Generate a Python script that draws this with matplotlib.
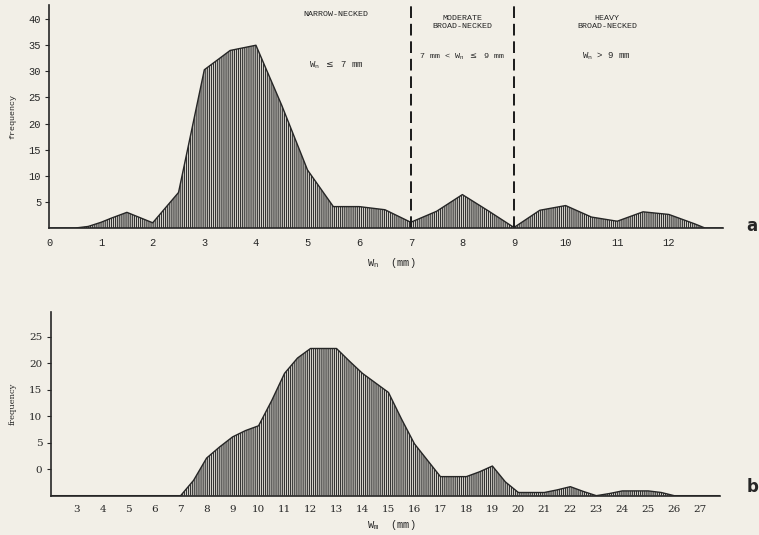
import matplotlib
matplotlib.use('Agg')
import matplotlib.pyplot as plt

# panel a: neck width W_n (mm), frequency
wn_x = [0, 0.5, 0.75, 1, 1.2, 1.5, 2, 2.5, 3, 3.5, 4, 4.5, 5, 5.5, 6, 6.5,
        7, 7.5, 8, 8.5, 9, 9.5, 10, 10.5, 11, 11.5, 12, 12.5, 12.7, 13.05]
wn_y = [0, 0, 0.3, 1.1, 1.9, 3.0, 1.0, 6.8, 30.3, 34.0, 35.0, 23.5, 11.1, 4.1, 4.1, 3.5,
        1.1, 3.2, 6.4, 3.3, 0.1, 3.4, 4.3, 2.1, 1.3, 3.1, 2.6, 0.8, 0, 0]
wn_ticks = list(range(0, 13))
wn_yticks = [5, 10, 15, 20, 25, 30, 35, 40]

# panel b: W_m (mm), frequency
wm_x = [2, 7, 7.5, 8, 8.5, 9, 9.5, 10, 10.5, 11, 11.5, 12, 12.5, 13, 13.5, 14, 14.5,
        15, 15.5, 16, 16.5, 17, 18, 18.5, 19, 19.5, 20, 21, 21.5, 22, 22.5, 23,
        23.5, 24, 25, 25.5, 26, 27.75]
wm_y = [0, 0, 2.9, 7.1, 9.2, 11.1, 12.3, 13.2, 17.9, 23.1, 26.0, 27.8, 27.8, 27.8, 25.4, 23.1, 21.3,
        19.5, 14.5, 9.8, 6.7, 3.6, 3.6, 4.5, 5.6, 2.6, 0.6, 0.6, 1.1, 1.7, 0.8, 0,
        0.4, 0.9, 0.9, 0.6, 0, 0]
wm_ticks = list(range(3, 28))
# the printed y labels sit 5 units above the baseline
wm_ytick_pos = [5, 10, 15, 20, 25, 30]
wm_ytick_lab = ['0', '5', '10', '15', '20', '25']

paper = '#f2efe7'
ink = '#262626'
mono = 'Liberation Mono'
serif = 'DejaVu Serif'

plt.rcParams['hatch.linewidth'] = 0.9
plt.rcParams['hatch.color'] = '#333333'

fig = plt.figure(figsize=(7.59, 5.35), dpi=100, facecolor=paper)

# ---- top panel ----
ax1 = fig.add_axes([0.0652, 0.5738, 0.8874, 0.4168])
ax1.set_facecolor(paper)
ax1.fill_between(wn_x, wn_y, 0, facecolor=paper, edgecolor='#333333',
                 hatch='||||||||', linewidth=0)
ax1.plot(wn_x, wn_y, color=ink, lw=1.0)
ax1.set_xlim(0, 13.05)
ax1.set_ylim(0, 42.7)
for s in ['top', 'right']:
    ax1.spines[s].set_visible(False)
for s in ['left', 'bottom']:
    ax1.spines[s].set_color(ink)
    ax1.spines[s].set_linewidth(1.2)
ax1.set_xticks(wn_ticks)
ax1.set_xticklabels([str(t) for t in wn_ticks], family=mono, fontsize=7.5, color=ink)
ax1.set_yticks(wn_yticks)
ax1.set_yticklabels([str(t) for t in wn_yticks], family=mono, fontsize=7.5, color=ink)
ax1.tick_params(axis='x', length=0, pad=7)
ax1.tick_params(axis='y', length=3, width=0.8, color=ink, pad=3)
ax1.set_ylabel('frequency', family=mono, fontsize=6, color=ink, labelpad=9)
fig.text(0.515, 1 - 263 / 535, r'W$_\mathregular{n}$  (mm)', family=mono, fontsize=7.5,
         color=ink, ha='center', va='center')

for xv in [7, 9]:
    ax1.plot([xv, xv], [0, 43.3], color='#1a1a1a', lw=1.4, ls=(0, (6, 3)), clip_on=False)

ax1.text(5.55, 40.8, 'NARROW-NECKED', family=mono, fontsize=6, color=ink, ha='center', va='center')
ax1.text(5.55, 31.2, r'W$_\mathregular{n}$ $\leq$ 7 mm', family=mono, fontsize=6.5, color=ink,
         ha='center', va='center')
ax1.text(8.0, 39.4, 'MODERATE\nBROAD-NECKED', family=mono, fontsize=6, color=ink,
         ha='center', va='center', linespacing=1.3)
ax1.text(8.0, 32.8, r'7 mm < W$_\mathregular{n}$ $\leq$ 9 mm', family=mono, fontsize=6, color=ink,
         ha='center', va='center')
ax1.text(10.8, 39.4, 'HEAVY\nBROAD-NECKED', family=mono, fontsize=6, color=ink,
         ha='center', va='center', linespacing=1.3)
ax1.text(10.8, 32.8, r'W$_\mathregular{n}$ > 9 mm', family=mono, fontsize=6.5, color=ink,
         ha='center', va='center')

fig.text(0.991, 0.578, 'a', fontsize=12, fontweight='bold', color=ink, ha='center', va='center')

# ---- bottom panel ----
ax2 = fig.add_axes([0.0668, 0.0735, 0.8818, 0.3434])
ax2.set_facecolor(paper)
ax2.fill_between(wm_x, wm_y, 0, facecolor=paper, edgecolor='#333333',
                 hatch='||||||||', linewidth=0)
ax2.plot(wm_x, wm_y, color=ink, lw=1.0)
ax2.set_xlim(2, 27.76)
ax2.set_ylim(0, 34.7)
for s in ['top', 'right']:
    ax2.spines[s].set_visible(False)
for s in ['left', 'bottom']:
    ax2.spines[s].set_color(ink)
    ax2.spines[s].set_linewidth(1.2)
ax2.set_xticks(wm_ticks)
ax2.set_xticklabels([str(t) for t in wm_ticks], family=serif, fontsize=7.5, color=ink)
ax2.set_yticks(wm_ytick_pos)
ax2.set_yticklabels(wm_ytick_lab, family=serif, fontsize=7.5, color=ink)
ax2.tick_params(axis='x', length=0, pad=7)
ax2.tick_params(axis='y', length=3, width=0.8, color=ink, pad=3)
ax2.set_ylabel('frequency', family=serif, fontsize=6, color=ink, labelpad=9)
fig.text(0.515, 1 - 525 / 535, r'W$_\mathregular{m}$  (mm)', family=mono, fontsize=7.5,
         color=ink, ha='center', va='center')

fig.text(0.991, 0.09, 'b', fontsize=12, fontweight='bold', color=ink, ha='center', va='center')

fig.savefig('out.png', dpi=100, facecolor=paper)
